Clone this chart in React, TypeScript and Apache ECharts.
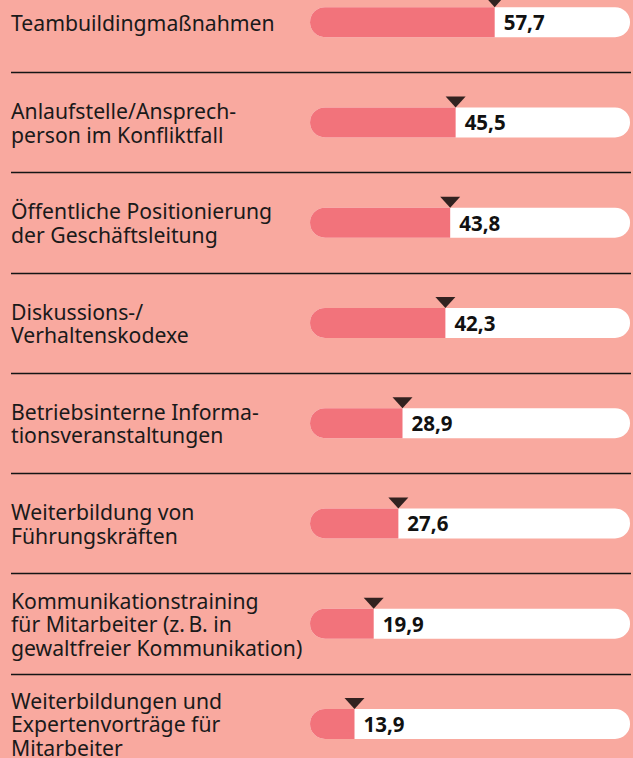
import React, { useEffect, useRef } from "react";
import * as echarts from "echarts";

const categories = [
  "Teambuildingmaßnahmen",
  "Anlaufstelle/Ansprech-\nperson im Konfliktfall",
  "Öffentliche Positionierung\nder Geschäftsleitung",
  "Diskussions-/\nVerhaltenskodexe",
  "Betriebsinterne Informa-\ntionsveranstaltungen",
  "Weiterbildung von\nFührungskräften",
  "Kommunikationstraining\nfür Mitarbeiter (z.\u2009B. in\ngewaltfreier Kommunikation)",
  "Weiterbildungen und\nExpertenvorträge für\nMitarbeiter",
];
const values = [57.7, 45.5, 43.8, 42.3, 28.9, 27.6, 19.9, 13.9];
const trackMax = 100;

const BG = "#F9A99F";
const FILL = "#F2737B";
const FONT = "Noto Sans";

export default function App() {
  const ref = useRef<HTMLDivElement>(null);
  useEffect(() => {
    document.body.style.margin = "0";
    document.body.style.overflow = "hidden";
    const chart = echarts.init(ref.current!, null, { renderer: "svg" });
    const fmt = (v: number) => v.toFixed(1).replace(".", ",");
    chart.setOption({
      animation: false,
      backgroundColor: BG,
      grid: { left: 11, right: 2, top: 0, bottom: 0, containLabel: false },
      xAxis: {
        type: "value",
        min: -93.44,
        max: 100.3,
        show: false,
      },
      yAxis: {
        type: "category",
        data: categories,
        inverse: true,
        axisLine: { show: false },
        axisTick: { show: false },
        splitLine: { show: true, interval: 0, lineStyle: { color: "#151515", width: 1.3 } },
        axisLabel: {
          interval: 0,
          align: "left",
          margin: 0,
          fontFamily: FONT,
          fontSize: 21.2,
          lineHeight: 23.5,
          color: "#1a1a1a",
        },
      },
      series: [
        {
          type: "bar",
          data: values.map(() => trackMax),
          barWidth: 30,
          barGap: "-100%",
          itemStyle: { color: "#ffffff", borderRadius: 15 },
          silent: true,
        },
        {
          type: "bar",
          data: values,
          barWidth: 30,
          itemStyle: { color: FILL, borderRadius: [15, 0, 0, 15] },
          label: {
            show: true,
            position: "right",
            distance: 9,
            formatter: (p: any) => fmt(p.value),
            fontFamily: FONT,
            fontWeight: "bold",
            fontSize: 20.5,
            color: "#111111",
          },
        },
        {
          type: "scatter",
          data: values.map((v, i) => [v, i]),
          symbol: "path://M0,0L20,0L10,11Z",
          symbolSize: [20, 11],
          symbolOffset: [0, -20.5],
          itemStyle: { color: "#000000" },
          z: 5,
        },
      ],
    });
    return () => chart.dispose();
  }, []);
  return (
    <div style={{ position: "fixed", left: 0, top: 0, width: 633, height: 758, overflow: "hidden" }}>
      <div
        ref={ref}
        style={{ position: "absolute", left: 0, top: -28.4, width: 633, height: 802.4 }}
      />
    </div>
  );
}
